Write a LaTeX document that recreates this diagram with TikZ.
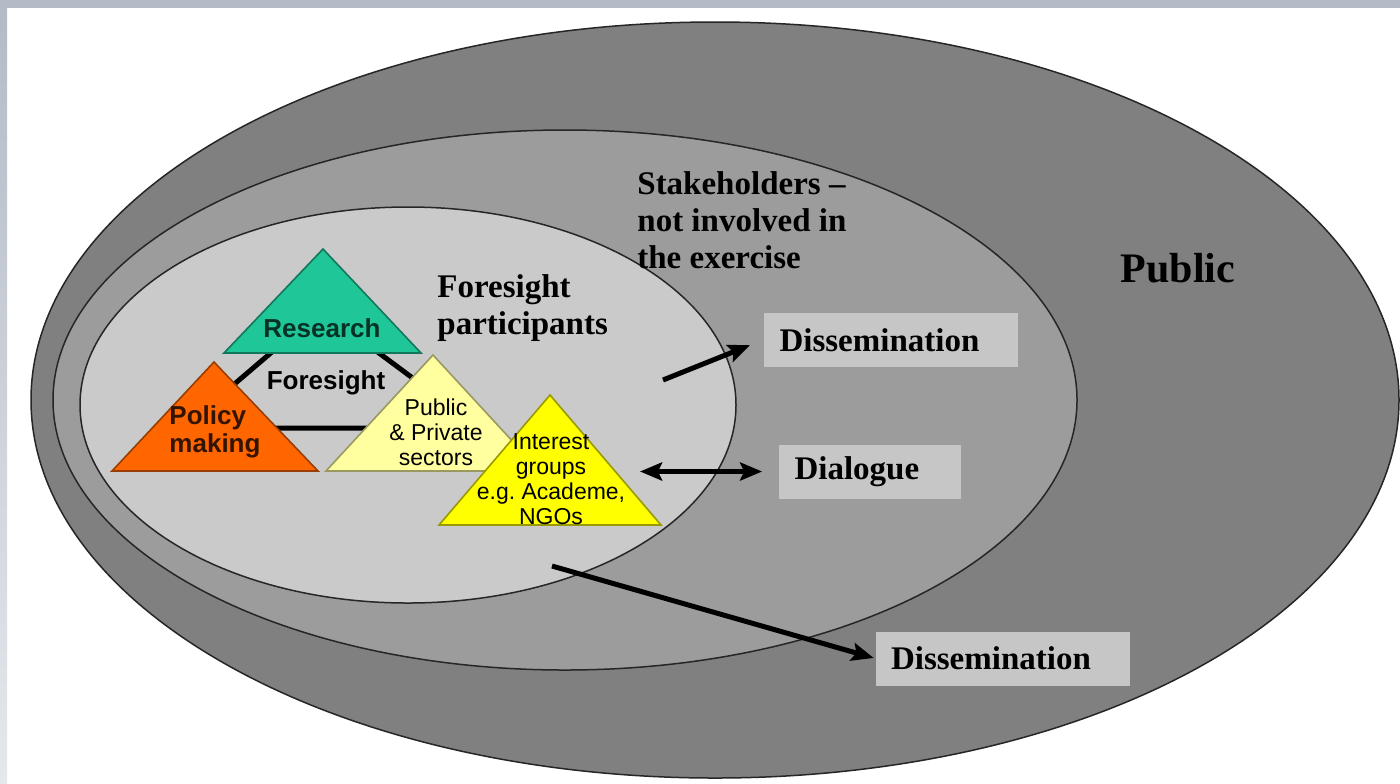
\documentclass[tikz,border=0pt]{standalone}
\usepackage{fontspec}
\setmainfont{Liberation Serif}
\setsansfont{Liberation Sans}
\usetikzlibrary{arrows.meta}
\definecolor{pubgray}{RGB}{128,128,128}
\definecolor{stkgray}{RGB}{156,156,156}
\definecolor{fsgray}{RGB}{202,202,202}
\definecolor{boxgray}{RGB}{198,198,198}
\definecolor{bandclr}{RGB}{180,187,199}
\definecolor{resteal}{RGB}{30,198,152}
\definecolor{polorange}{RGB}{255,102,0}
\definecolor{ppyellow}{RGB}{255,255,160}
\definecolor{igyellow}{RGB}{255,255,0}
\tikzset{
    ImgCoords/.style={x=0.5pt,y=-0.5pt},
    Ring/.style={draw=black!85,line width=0.75pt},
    SerifLbl/.style={inner sep=0pt,align=left,font=\bfseries\fontsize{16.5}{18.5}\selectfont},
    TriLbl/.style={inner sep=0pt,font=\sffamily\bfseries\fontsize{13}{14}\selectfont},
    TriTxt/.style={inner sep=0pt,align=center,font=\sffamily\fontsize{11.5}{12.5}\selectfont},
    GreyBox/.style={fill=boxgray,inner xsep=8pt,inner ysep=0pt,minimum height=27pt,
    align=left,font=\bfseries\fontsize{16.5}{18.5}\selectfont},
    FlowArrow/.style={line width=2.5pt,-{Stealth[length=11pt,width=9pt,inset=2pt]}}
}

\begin{document}
\begin{tikzpicture}[ImgCoords]
    \useasboundingbox (0,0) rectangle (1400,783);
    \fill[white] (0,0) rectangle (1400,783);
    \fill[bandclr] (0,0) rectangle (1400,8);
    \shade[top color=bandclr,bottom color=bandclr!35!white] (0,8) rectangle (7,783);

    % nested groups: public, stakeholders, participants
    \foreach \cx/\cy/\rx/\ry/\clr in {715/400/684/378/pubgray,
        565/400/512/270/stkgray, 408/405/328/198/fsgray}
        \filldraw[Ring,fill=\clr] (\cx,\cy) ellipse [x radius=\rx, y radius=\ry];

    \node[font=\bfseries\fontsize{21}{24}\selectfont] (public) at (1178,268) {Public};
    \node[SerifLbl,anchor=west] (stake) at (637,220)
        {Stakeholders --\\not involved in\\the exercise};
    \node[SerifLbl,anchor=west] (fspart) at (437,308) {Foresight\\participants};

    % the foresight triangle behind the actors
    \draw[line width=2.5pt,line join=round] (321,310) -- (183,428) -- (480,428) -- cycle;

    % actors
    \foreach \ax/\ay/\bl/\br/\by/\clr in {323/249/224/421/353/resteal,
        214/362/112/318/471/polorange, 433/355/326/540/471/ppyellow,
        550/395/439/661/525/igyellow}
        \filldraw[fill=\clr,draw=\clr!60!black,line width=0.8pt]
            (\ax,\ay) -- (\bl,\by) -- (\br,\by) -- cycle;

    \node[TriLbl,text=resteal!25!black] (research) at (322,328) {Research};
    \node[TriLbl] (foresight) at (326,383) {Foresight};
    \node[TriLbl,align=left,text=polorange!20!black] (policy) at (215,432) {Policy\\making};
    \node[TriTxt] (pubpriv) at (436,432) {Public\\\& Private\\sectors};
    \node[TriTxt] (interest) at (551,479) {Interest\\groups\\e.g.\ Academe,\\NGOs};

    % outreach
    \node[GreyBox,text width=111pt] (dis1) at (890.5,340) {Dissemination};
    \node[GreyBox,text width=75pt] (dia) at (869.5,471.5) {Dialogue};
    \node[GreyBox,inner xsep=7.5pt,text width=112pt] (dis2) at (1003,658.5) {Dissemination};

    \coordinate (outA) at (663,380);
    \coordinate (outB) at (640,471.5);
    \coordinate (outC) at (552,566);
    \draw[FlowArrow,shorten >=7pt] (outA) -- (dis1.west);
    \draw[FlowArrow,{Stealth[length=11pt,width=9pt,inset=2pt]}-{Stealth[length=11pt,width=9pt,inset=2pt]},
        shorten >=8pt] (outB) -- (dia.west);
    \draw[FlowArrow,shorten >=1pt] (outC) -- (dis2.west);
\end{tikzpicture}
\end{document}
